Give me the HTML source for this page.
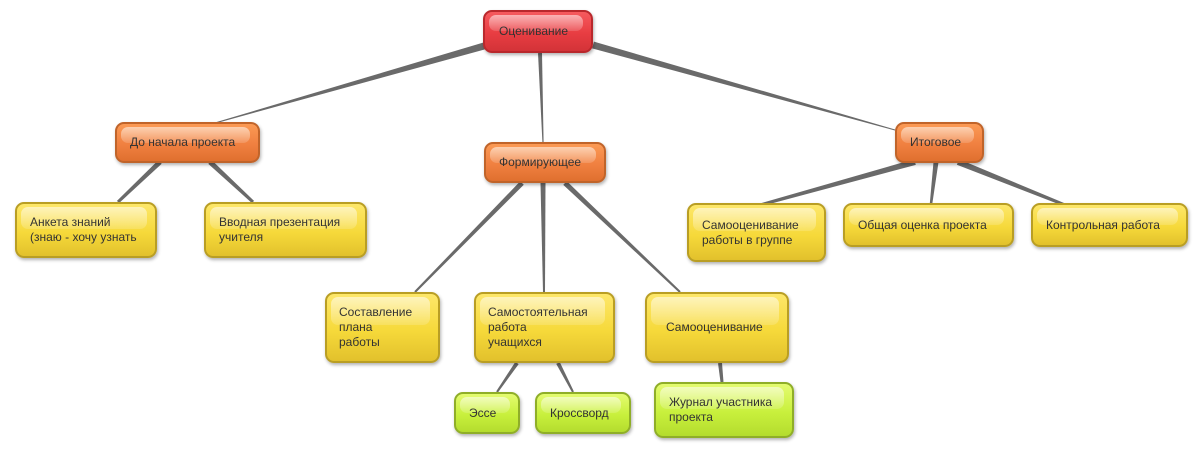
<!DOCTYPE html>
<html><head><meta charset="utf-8">
<style>
html,body{margin:0;padding:0;background:#fff;}
body{width:1199px;height:449px;position:relative;overflow:hidden;font-family:"Liberation Sans","DejaVu Sans",sans-serif;}
svg{position:absolute;left:0;top:0;}
.n{position:absolute;box-sizing:border-box;border-radius:9px;border:2px solid;font-size:12px;color:#333;line-height:15px;display:flex;align-items:center;box-shadow:1px 2px 3px rgba(0,0,0,0.3);overflow:hidden;white-space:nowrap;}
.n:before{content:"";position:absolute;left:4px;right:8px;top:3px;height:42%;border-radius:7px;background:linear-gradient(rgba(255,255,255,0.55),rgba(255,255,255,0.15));}
.n span{position:relative;}
.r{background:linear-gradient(#f65a5e,#e83d42 55%,#d33338);border-color:#b9282c;}
.o{background:linear-gradient(#fb9a55,#f08040 55%,#e0702f);border-color:#c0642a;}
.y{background:linear-gradient(#fde76a,#f6d93a 55%,#e2c12c);border-color:#b99e24;}
.g{background:linear-gradient(#e4fb70,#c8f03c 55%,#b4dc2e);border-color:#8fae28;}
</style></head><body>
<svg id="s" width="1199" height="449"></svg>
<div class="n r" style="left:483px;top:10px;width:110px;height:43px;padding-left:14px"><span>Оценивание</span></div>
<div class="n o" style="left:115px;top:122px;width:145px;height:41px;padding-left:13px"><span>До начала проекта</span></div>
<div class="n o" style="left:484px;top:142px;width:122px;height:41px;padding-left:13px"><span>Формирующее</span></div>
<div class="n o" style="left:895px;top:122px;width:89px;height:41px;padding-left:13px"><span>Итоговое</span></div>
<div class="n y" style="left:15px;top:202px;width:142px;height:56px;padding-left:13px"><span>Анкета знаний<br>(знаю - хочу узнать</span></div>
<div class="n y" style="left:204px;top:202px;width:163px;height:56px;padding-left:13px"><span>Вводная презентация<br>учителя</span></div>
<div class="n y" style="left:687px;top:203px;width:139px;height:59px;padding-left:13px"><span>Самооценивание<br>работы в группе</span></div>
<div class="n y" style="left:843px;top:203px;width:171px;height:44px;padding-left:13px"><span>Общая оценка проекта</span></div>
<div class="n y" style="left:1031px;top:203px;width:157px;height:44px;padding-left:13px"><span>Контрольная работа</span></div>
<div class="n y" style="left:325px;top:292px;width:115px;height:71px;padding-left:12px"><span>Составление<br>плана<br>работы</span></div>
<div class="n y" style="left:474px;top:292px;width:141px;height:71px;padding-left:12px"><span>Самостоятельная<br>работа<br>учащихся</span></div>
<div class="n y" style="left:645px;top:292px;width:144px;height:71px;padding-left:19px"><span>Самооценивание</span></div>
<div class="n g" style="left:454px;top:392px;width:66px;height:42px;padding-left:13px"><span>Эссе</span></div>
<div class="n g" style="left:535px;top:392px;width:96px;height:42px;padding-left:13px"><span>Кроссворд</span></div>
<div class="n g" style="left:654px;top:382px;width:140px;height:56px;padding-left:13px"><span>Журнал участника<br>проекта</span></div>
<script>
var L=[[484,46,215,123,7,1],[540,53,543,142,4,1.2],[593,45,895,130,7,1],
[160,162,118,202,5,3],[210,162,253,202,5,3],
[522,183,415,292,5,2],[543,183,544,292,5,2],[565,183,680,292,5,2],
[915,162,760,205,6,3],[936,162,931,204,5,2.5],[958,162,1065,205,6,3],
[517,363,497,392,4,2],[558,363,573,392,4,2],[720,363,722,382,4,3]];
var s='';
L.forEach(function(l){var dx=l[2]-l[0],dy=l[3]-l[1],d=Math.hypot(dx,dy),nx=-dy/d,ny=dx/d,a=l[4]/2,b=l[5]/2;
s+='<polygon fill="#6a6a6a" points="'+(l[0]+nx*a)+','+(l[1]+ny*a)+' '+(l[2]+nx*b)+','+(l[3]+ny*b)+' '+(l[2]-nx*b)+','+(l[3]-ny*b)+' '+(l[0]-nx*a)+','+(l[1]-ny*a)+'"/>';});
document.getElementById('s').innerHTML=s;
</script>
</body></html>
